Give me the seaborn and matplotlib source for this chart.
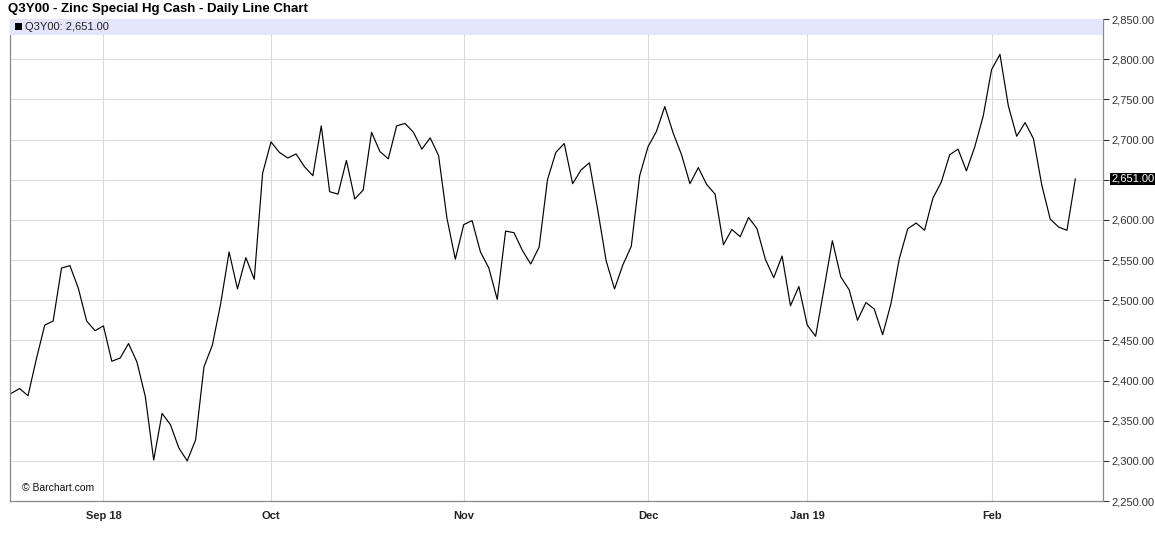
import numpy as np
import pandas as pd
import matplotlib
matplotlib.use("Agg")
import matplotlib.pyplot as plt
from matplotlib.patches import Rectangle
from matplotlib.ticker import FuncFormatter
import seaborn as sns

# trading days (LME calendar, UK holidays dropped)
holidays = ['2018-08-27', '2018-12-25', '2018-12-26', '2019-01-01']
dates = pd.bdate_range('2018-08-16', '2019-02-15', freq='C', holidays=holidays)

prices = [2384, 2390, 2381, 2427, 2469, 2474, 2540, 2543, 2515, 2474,
          2462, 2468, 2424, 2428, 2446, 2423, 2380, 2301, 2359, 2345,
          2316, 2300, 2326, 2417, 2444, 2496, 2560, 2514, 2553, 2526,
          2658, 2697, 2684, 2677, 2682, 2666, 2655, 2717, 2635, 2632,
          2674, 2626, 2637, 2709, 2685, 2676, 2717, 2720, 2709, 2688,
          2702, 2680, 2602, 2551, 2594, 2599, 2560, 2540, 2501, 2586,
          2584, 2562, 2545, 2566, 2650, 2684, 2695, 2645, 2662, 2671,
          2612, 2549, 2514, 2544, 2567, 2655, 2691, 2710, 2741, 2708,
          2681, 2645, 2665, 2644, 2632, 2569, 2588, 2579, 2603, 2589,
          2551, 2528, 2555, 2493, 2517, 2469, 2455, 2514, 2574, 2529,
          2513, 2475, 2497, 2489, 2457, 2496, 2552, 2589, 2596, 2587,
          2627, 2647, 2681, 2688, 2661, 2691, 2729, 2787, 2806, 2742,
          2704, 2721, 2701, 2643, 2601, 2591, 2587, 2651]

month_labels = ['Sep 18', 'Oct', 'Nov', 'Dec', 'Jan 19', 'Feb']
y_ticks = list(range(2250, 2851, 50))
last_price = 2651.00

df = pd.DataFrame({'date': dates, 'close': prices})
df['idx'] = np.arange(len(df))

sns.set_style('white')
plt.rcParams['font.family'] = ['Liberation Sans', 'DejaVu Sans']

fig = plt.figure(figsize=(11.55, 5.42), dpi=100)
ax = fig.add_axes([10 / 1155, 41 / 542, 1093 / 1155, 482 / 542])

sns.lineplot(data=df, x='idx', y='close', ax=ax, color='black', linewidth=0.85)

# first trading day of each month -> gridline / tick
month_pos = df.groupby(df['date'].dt.to_period('M'))['idx'].min().values[1:]
ax.set_xticks(month_pos)
ax.set_xticklabels(month_labels, fontsize=8, fontweight='bold',
                   family=['Liberation Sans Narrow', 'Liberation Sans'], color='#222')
ax.set_xlim(-0.15, 130.3)

ax.set_ylim(2250, 2850)
ax.set_yticks(y_ticks)
ax.yaxis.tick_right()
ax.yaxis.set_major_formatter(FuncFormatter(lambda v, p: f'{v:,.2f}'))
ax.tick_params(axis='y', labelsize=8, colors='#333', length=4, width=0.8, pad=2,
               direction='out', right=True, left=False)
ax.tick_params(axis='x', length=4, width=0.8, pad=3, direction='out', colors='#666')
for lab in ax.get_xticklabels():
    lab.set_color('#222')
for lab in ax.get_yticklabels():
    lab.set_color('#333')

ax.grid(True, color='#dcdcdc', linewidth=0.8)
ax.set_axisbelow(True)
ax.set_xlabel('')
ax.set_ylabel('')
for side in ['left', 'bottom', 'right', 'top']:
    ax.spines[side].set_color('#888')
    ax.spines[side].set_linewidth(0.9)
ax.spines['top'].set_visible(False)

# legend band
ax.add_patch(Rectangle((0, 1 - 16 / 482), 1, 16 / 482, transform=ax.transAxes,
                       facecolor='#e4e4fa', edgecolor='none', zorder=3))
ax.add_patch(Rectangle((0.0045, 0.9765), 0.0062, 0.0145, transform=ax.transAxes,
                       facecolor='black', edgecolor='none', zorder=4))
ax.text(0.0135, 0.9835, f'Q3Y00: {last_price:,.2f}', transform=ax.transAxes,
        fontsize=8, va='center', ha='left', color='#222', zorder=4)

# last price marker on right axis
ax.annotate(f'{last_price:,.2f}', xy=(1, last_price), xycoords=('axes fraction', 'data'),
            xytext=(6, 0), textcoords='offset points', fontsize=8, va='center',
            ha='left', color='white',
            bbox=dict(boxstyle='square,pad=0.1', facecolor='black', edgecolor='none'))

ax.text(0.011, 0.026, '\u00a9 Barchart.com', transform=ax.transAxes, fontsize=7.5,
        va='center', ha='left', color='#111')

fig.text(8 / 1155, 1 - 9 / 542, 'Q3Y00 - Zinc Special Hg Cash - Daily Line Chart',
         fontsize=9.5, fontweight='bold', va='center', ha='left', color='black')

fig.savefig('out.png', dpi=100)
